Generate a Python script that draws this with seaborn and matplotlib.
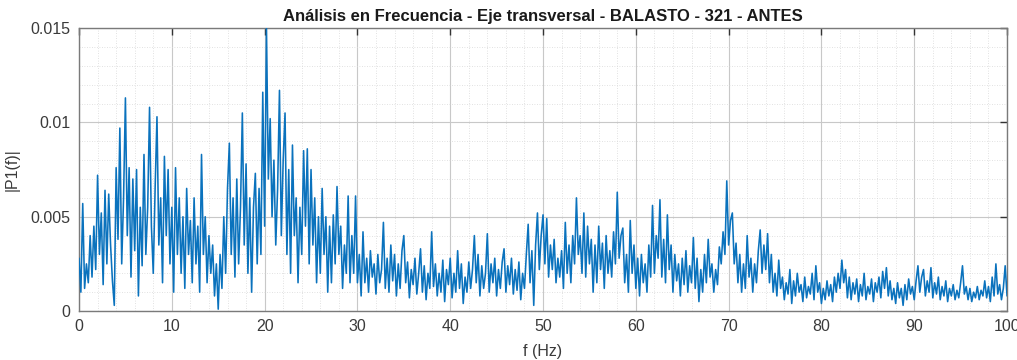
import numpy as np
import pandas as pd
import matplotlib
matplotlib.use("Agg")
import matplotlib.pyplot as plt
from matplotlib.ticker import MultipleLocator
import seaborn as sns

# Single-sided amplitude spectrum |P1(f)|, sampled every 0.2 Hz from 0 to 100 Hz.
# Values below are in units of 1e-3; each row covers 2 Hz.
freq_step_hz = 0.2
amplitude_milli = [
    2.8, 1.0, 5.7, 1.2, 2.5, 1.5, 4.0, 1.8, 4.5, 2.2,     # 0-2
    7.2, 3.0, 5.2, 1.4, 6.4, 2.5, 6.2, 3.5, 1.6, 0.3,     # 2-4
    7.6, 3.8, 9.7, 2.5, 6.0, 11.3, 4.0, 7.6, 1.8, 7.0,    # 4-6
    3.2, 7.5, 0.8, 5.5, 2.4, 8.3, 3.0, 5.5, 10.8, 4.5,    # 6-8
    2.0, 6.5, 10.3, 3.5, 6.0, 1.5, 8.2, 4.0, 7.5, 2.5,    # 8-10
    5.5, 1.0, 7.6, 3.0, 6.0, 2.0, 5.0, 1.2, 6.5, 3.0,     # 10-12
    4.8, 1.5, 6.0, 2.5, 4.5, 1.0, 8.3, 3.0, 5.0, 1.5,     # 12-14
    4.0, 2.0, 3.5, 0.8, 2.5, 0.1, 3.0, 1.2, 5.0, 2.0,     # 14-16
    6.5, 8.9, 3.0, 6.0, 1.8, 7.0, 2.5, 5.5, 10.5, 3.5,    # 16-18
    7.8, 2.0, 6.0, 1.0, 5.5, 7.3, 2.5, 6.5, 3.0, 11.6,    # 18-20
    4.5, 15.0, 7.0, 10.2, 5.0, 8.0, 3.5, 6.5, 11.7, 4.0,  # 20-22
    8.0, 10.5, 3.0, 7.5, 2.0, 8.8, 4.0, 6.0, 1.5, 5.5,    # 22-24
    3.0, 8.5, 4.5, 8.6, 2.5, 7.5, 3.5, 6.0, 1.5, 5.0,     # 24-26
    2.0, 6.5, 3.0, 5.0, 1.0, 4.5, 1.5, 5.1, 2.5, 6.6,     # 26-28
    3.0, 4.5, 1.2, 3.5, 2.0, 6.1, 1.5, 4.0, 2.0, 6.1,     # 28-30
    1.5, 3.0, 0.8, 4.2, 1.5, 2.8, 1.0, 3.2, 1.8, 2.5,     # 30-32
    0.9, 3.0, 1.5, 2.2, 4.7, 1.2, 2.8, 1.0, 3.5, 1.6,     # 32-34
    3.0, 0.8, 2.5, 1.2, 3.2, 4.0, 1.5, 2.6, 0.7, 2.2,     # 34-36
    1.4, 2.8, 0.9, 2.0, 3.3, 1.0, 2.4, 0.6, 2.0, 1.2,     # 36-38
    4.2, 1.3, 2.5, 0.8, 2.0, 1.0, 2.7, 0.5, 2.2, 1.4,     # 38-40
    2.8, 0.7, 2.0, 1.0, 3.2, 1.2, 2.5, 0.4, 1.8, 1.0,     # 40-42
    2.6, 1.2, 2.2, 4.0, 1.5, 3.0, 0.8, 2.4, 1.2, 2.0,     # 42-44
    4.1, 1.0, 2.5, 1.5, 2.8, 0.8, 2.2, 1.2, 2.6, 3.3,     # 44-46
    1.0, 2.4, 1.4, 2.8, 0.9, 2.2, 1.1, 2.6, 0.6, 2.0,     # 46-48
    1.2, 3.0, 4.6, 1.5, 3.2, 0.3, 3.5, 5.2, 2.2, 4.0,     # 48-50
    5.1, 2.5, 4.9, 1.8, 3.5, 2.2, 3.8, 1.5, 2.8, 1.8,     # 50-52
    3.2, 1.2, 4.7, 2.0, 3.5, 1.5, 4.0, 2.5, 6.0, 3.0,     # 52-54
    4.0, 2.0, 5.2, 1.8, 4.5, 2.5, 3.8, 1.0, 3.5, 1.5,     # 54-56
    4.5, 2.2, 3.6, 1.2, 4.0, 2.0, 3.2, 1.8, 4.2, 2.5,     # 56-58
    6.3, 2.8, 4.0, 4.4, 1.5, 3.0, 1.0, 4.8, 2.0, 3.5,     # 58-60
    1.2, 2.8, 0.8, 3.0, 1.5, 2.5, 1.0, 3.5, 1.8, 5.6,     # 60-62
    2.0, 4.0, 2.8, 5.9, 1.8, 3.8, 1.5, 5.1, 2.2, 3.5,     # 62-64
    1.0, 3.0, 1.6, 2.5, 0.8, 2.8, 1.4, 3.2, 1.0, 2.4,     # 64-66
    1.5, 3.9, 1.2, 2.8, 0.5, 2.2, 1.0, 3.0, 1.5, 3.8,     # 66-68
    1.8, 2.5, 1.0, 2.2, 1.4, 3.4, 2.5, 4.2, 3.0, 6.9,     # 68-70
    3.5, 4.8, 5.2, 2.5, 3.6, 1.5, 3.0, 1.0, 2.5, 1.2,     # 70-72
    4.0, 1.8, 2.8, 1.0, 2.5, 1.5, 3.2, 4.3, 2.0, 3.5,     # 72-74
    2.2, 4.1, 1.5, 3.0, 1.0, 2.0, 0.8, 2.7, 1.2, 1.8,     # 74-76
    0.6, 1.5, 0.9, 2.2, 0.4, 1.6, 0.8, 2.0, 1.0, 1.4,     # 76-78
    0.5, 1.8, 0.7, 1.3, 0.9, 2.0, 0.6, 2.4, 1.0, 1.5,     # 78-80
    0.4, 1.2, 0.6, 1.6, 0.8, 1.4, 0.5, 1.8, 1.0, 2.0,     # 80-82
    1.2, 2.7, 1.5, 2.2, 0.7, 1.8, 0.6, 1.5, 0.9, 1.7,     # 82-84
    0.5, 1.4, 0.8, 2.0, 0.6, 1.3, 0.9, 1.7, 0.5, 1.5,     # 84-86
    1.0, 1.8, 0.7, 2.1, 1.2, 2.3, 0.8, 1.6, 0.6, 1.2,     # 86-88
    0.4, 1.5, 0.7, 1.2, 0.3, 1.4, 0.6, 1.7, 0.9, 1.3,     # 88-90
    0.6, 1.6, 2.4, 1.0, 1.8, 2.2, 0.8, 1.6, 1.0, 2.3,     # 90-92
    0.7, 1.5, 0.9, 1.8, 0.6, 1.3, 0.8, 1.6, 0.5, 1.2,     # 92-94
    0.8, 1.4, 0.6, 1.1, 0.7, 1.5, 2.4, 0.9, 1.3, 0.6,     # 94-96
    1.2, 0.5, 1.0, 0.7, 1.3, 0.6, 1.1, 0.8, 1.6, 0.7,     # 96-98
    1.3, 0.5, 1.8, 0.8, 2.5, 0.9, 1.4, 0.6, 1.2, 2.4,     # 98-100
    0.8,
]

x_ticks = [0, 10, 20, 30, 40, 50, 60, 70, 80, 90, 100]
y_ticks = [0, 0.005, 0.01, 0.015]
y_tick_labels = ["0", "0.005", "0.01", "0.015"]

title_text = "Análisis en Frecuencia - Eje transversal - BALASTO - 321 - ANTES"
x_label = "f (Hz)"
y_label = "|P1(f)|"

freq = np.arange(len(amplitude_milli)) * freq_step_hz
spectrum = pd.DataFrame({"f": freq, "P1": np.array(amplitude_milli) * 1e-3})

sns.set_style("white")
plt.rcParams["font.family"] = ["Liberation Sans", "DejaVu Sans"]

fig = plt.figure(figsize=(10.17, 3.6), dpi=100)
ax = fig.add_axes([0.0777, 0.136, 0.9125, 0.786])

sns.lineplot(data=spectrum, x="f", y="P1", ax=ax, estimator=None,
             color="#0a72bd", linewidth=1.15, zorder=3)

ax.set_xlim(0, 100)
ax.set_ylim(0, 0.015)
ax.set_xticks(x_ticks)
ax.set_yticks(y_ticks)
ax.set_yticklabels(y_tick_labels)
ax.xaxis.set_minor_locator(MultipleLocator(2))
ax.yaxis.set_minor_locator(MultipleLocator(0.001))

ax.grid(which="major", color="#c8c8c8", linewidth=0.8, linestyle="-", zorder=0)
ax.grid(which="minor", color="#d8d8d8", linewidth=0.6, linestyle=(0, (1, 2)), zorder=0)
ax.set_axisbelow(True)

ax.tick_params(which="major", direction="in", length=5, width=1.0, color="#333333",
               top=True, right=True, labelsize=11.5, labelcolor="#3a3a3a", pad=6)
ax.tick_params(which="minor", length=0, top=True, right=True)
for side in ["left", "right", "top", "bottom"]:
    ax.spines[side].set_visible(True)
    ax.spines[side].set_color("#7a7a7a")
    ax.spines[side].set_linewidth(1.0)

ax.set_title(title_text, fontsize=12, fontweight="bold", color="#1a1a1a", pad=5)
ax.set_xlabel(x_label, fontsize=11.5, color="#3a3a3a", labelpad=7)
ax.set_ylabel(y_label, fontsize=11.5, color="#3a3a3a", labelpad=8)

fig.savefig("out.png", dpi=100, facecolor="white")
